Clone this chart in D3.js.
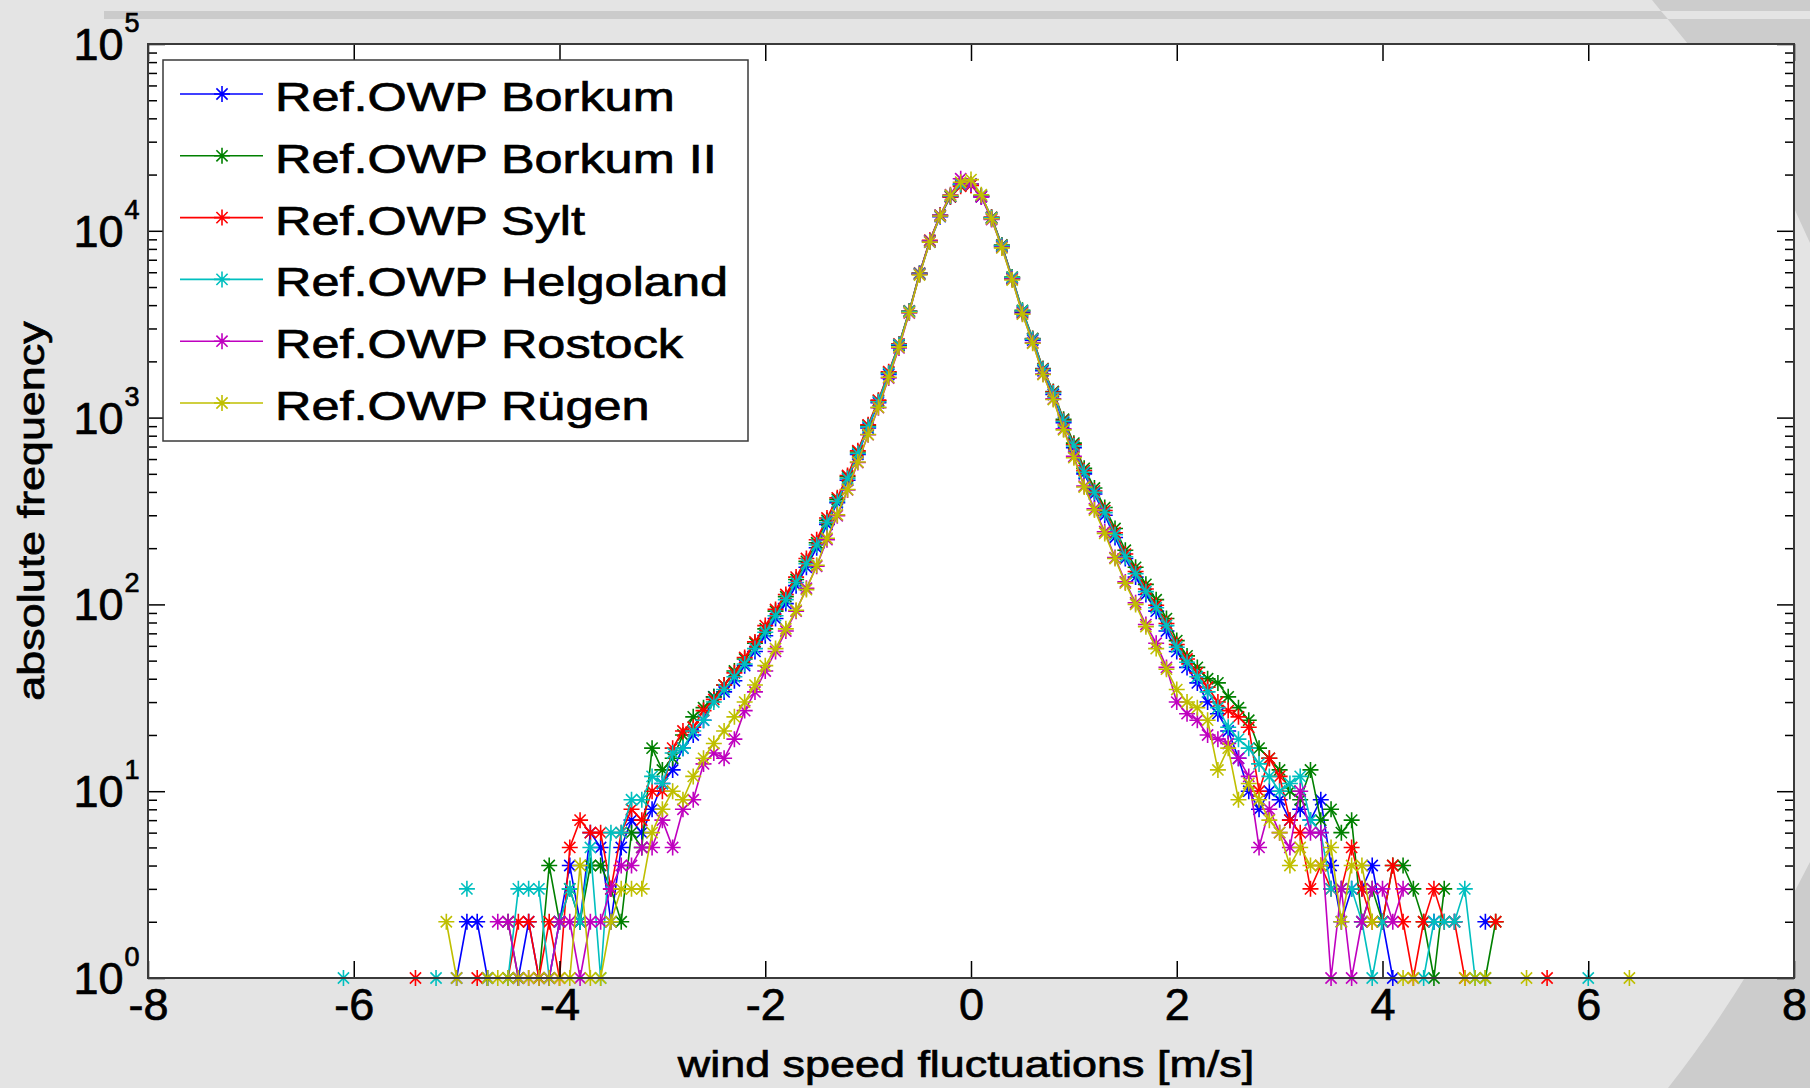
<!DOCTYPE html>
<html><head><meta charset="utf-8">
<script src="https://cdn.jsdelivr.net/npm/d3@7"></script>
<style>
body{margin:0;background:#e4e4e4;}
svg{display:block;}
text{font-family:"Liberation Sans",Arial,Helvetica,sans-serif;fill:#000;stroke:#000;stroke-width:0.7px;}
</style>
</head><body>
<svg id="c" width="1810" height="1088"></svg>
<script>
const _ = null;
// histogram bin centres (m/s)
const bins = [-6.1,-6.0,-5.9,-5.8,-5.7,-5.6,-5.5,-5.4,-5.3,-5.2,-5.1,-5.0,-4.9,-4.8,-4.7,-4.6,-4.5,-4.4,-4.3,-4.2,-4.1,-4.0,-3.9,-3.8,-3.7,-3.6,-3.5,-3.4,-3.3,-3.2,-3.1,-3.0,-2.9,-2.8,-2.7,-2.6,-2.5,-2.4,-2.3,-2.2,-2.1,-2.0,-1.9,-1.8,-1.7,-1.6,-1.5,-1.4,-1.3,-1.2,-1.1,-1.0,-0.9,-0.8,-0.7,-0.6,-0.5,-0.4,-0.3,-0.2,-0.1,0.0,0.1,0.2,0.3,0.4,0.5,0.6,0.7,0.8,0.9,1.0,1.1,1.2,1.3,1.4,1.5,1.6,1.7,1.8,1.9,2.0,2.1,2.2,2.3,2.4,2.5,2.6,2.7,2.8,2.9,3.0,3.1,3.2,3.3,3.4,3.5,3.6,3.7,3.8,3.9,4.0,4.1,4.2,4.3,4.4,4.5,4.6,4.7,4.8,4.9,5.0,5.1,5.2,5.3,5.4,5.5,5.6,5.7,5.8,5.9,6.0,6.1,6.2,6.3,6.4];

const seriesNames = ["Ref.OWP Borkum","Ref.OWP Borkum II","Ref.OWP Sylt","Ref.OWP Helgoland","Ref.OWP Rostock","Ref.OWP Rügen"];
const seriesColors = ["#0000ff","#008000","#ff0000","#00bfbf","#bf00bf","#bfbf00"];

const borkum = [_,_,_,_,_,_,_,
  _,_,_,_,1,2,2,1,_,_,1,2,1,1,2,4,2,6,5,
  2,5,7,6,8,11,13,17,20,24,
  32,34,39,47,56,68,84,101,126,158,
  201,268,350,462,635,880,1200,1700,2430,3680,
  5850,8700,11900,15200,17800,17700,15200,11600,8250,5550,
  3650,2600,1780,1330,940,690,500,390,300,228,
  176,140,113,92,72,56,46,38,30,26,
  21,15,10,8,10,9,7,8,7,9,
  4,2,3,3,4,2,1,_,_,_,
  2,_,2,_,_,2,_,_,_,_,
  _,_,_,_,_,_,_,_,_,_];
const borkum2 = [_,_,_,_,_,_,_,
  _,_,_,_,_,_,_,1,_,2,1,_,1,4,2,3,2,4,4,
  3,2,6,5,17,13,15,20,25,28,
  32,37,44,51,62,74,92,110,136,170,
  214,282,365,482,655,905,1230,1740,2460,3720,
  5900,8850,12100,15300,17600,17700,15400,11800,8400,5650,
  3750,2650,1830,1380,980,730,535,420,330,255,
  195,158,128,106,84,64,53,46,40,38,
  32,28,24,17,15,13,10,9,13,7,
  8,6,7,2,3,2,4,4,3,2,
  1,3,_,_,_,1,2,_,_,_,
  _,_,_,_,_,_,_,_,_,_];
const sylt = [_,_,_,_,_,_,_,
  1,_,_,_,_,_,1,_,_,1,2,2,1,2,1,5,7,6,6,
  3,6,8,7,10,10,17,21,22,27,
  31,37,43,52,63,77,94,113,140,176,
  222,290,372,490,665,915,1240,1760,2480,3720,
  5950,8900,12100,15200,17300,17500,15300,11800,8350,5600,
  3700,2640,1820,1370,965,715,520,405,318,242,
  186,150,121,99,79,61,51,43,36,30,
  27,25,22,10,15,12,7,6,3,4,
  3,3,5,3,2,2,4,2,1,2,
  3,2,2,1,_,_,2,_,_,_,
  _,1,_,_,_,_,_,_,_,_];
const helgoland = [1,_,_,_,_,_,_,
  _,_,1,_,_,3,_,_,_,1,3,3,3,1,2,3,2,5,1,
  6,6,9,9,12,11,16,17,21,24,
  30,35,41,48,58,71,87,106,131,165,
  208,275,356,472,642,892,1215,1725,2460,3710,
  5920,8820,12050,15350,17700,17800,15350,11750,8330,5620,
  3720,2630,1810,1355,955,705,510,398,310,236,
  180,146,117,96,77,59,49,41,34,28,
  22,19,17,14,12,10,11,12,7,6,
  3,3,3,2,1,2,_,_,_,1,
  2,2,2,3,1,_,_,_,_,_,
  _,_,_,_,_,1,_,_,_,_];
const rostock = [_,_,_,_,_,_,_,
  _,_,_,_,_,_,_,_,2,2,1,1,1,1,2,2,1,2,2,
  3,4,4,5,5,7,5,8,9,14,
  16,15,19,27,34,44,56,72,92,122,
  160,222,298,410,575,810,1130,1630,2360,3630,
  5850,8800,12100,15600,19000,17800,15200,11500,8150,5500,
  3600,2520,1710,1260,870,620,430,325,245,178,
  132,102,78,62,46,30,26,24,20,19,
  18,15,12,5,8,6,5,10,6,6,
  1,3,1,2,3,3,2,3,_,_,
  _,_,_,_,_,_,_,_,_,_,
  _,_,_,_,_,_,_,_,_,_];
const ruegen = [_,_,_,_,_,_,_,
  _,_,_,2,1,_,_,1,1,1,1,1,1,1,1,1,4,1,1,
  2,3,3,3,6,8,10,9,12,15,
  18,21,25,30,37,47,58,74,93,120,
  162,226,302,412,578,812,1135,1645,2385,3655,
  5800,8700,12000,15500,18200,18800,15600,11600,8100,5450,
  3580,2500,1700,1250,860,610,425,320,240,176,
  130,100,76,58,45,35,30,28,24,13,
  17,9,11,9,7,6,4,5,4,4,
  5,2,4,4,2,_,_,1,1,_,
  _,_,_,1,1,1,_,_,_,1,
  _,_,_,_,_,_,_,_,_,1];

const seriesValues = [borkum, borkum2, sylt, helgoland, rostock, ruegen];

const xTicks = [-8,-6,-4,-2,0,2,4,6,8];
const xTickLabels = ["-8","-6","-4","-2","0","2","4","6","8"];
const yDecades = [1,10,100,1000,10000,100000];
const yExponents = ["0","1","2","3","4","5"];
const xLabel = "wind speed fluctuations [m/s]";
const yLabel = "absolute frequency";

const svg = d3.select("#c");
const L = 148, R = 1794, T = 44, B = 978;

// background decoration
svg.append("rect").attr("width",1810).attr("height",1088).attr("fill","#e4e4e4");
svg.append("path").attr("d","M1652,0 L1810,0 L1810,243 L1794,208 L1794,44 L1688,44 Z").attr("fill","#cccccc");
svg.append("path").attr("d","M104,11 L1661,11 L1668,19 L104,19 Z").attr("fill","#cbcbcb");
svg.append("path").attr("d","M1661,11 L1810,11 L1810,19 L1668,19 Z").attr("fill","#e4e4e4");
svg.append("path").attr("d","M1668,1088 Q1745,990 1810,862 L1810,1088 Z").attr("fill","#cccccc");

const x = d3.scaleLinear().domain([-8,8]).range([L,R]);
const y = d3.scaleLog().domain([1,1e5]).range([B,T]);

svg.append("rect").attr("x",L).attr("y",T).attr("width",R-L).attr("height",B-T).attr("fill","#fff");

// data
const line = d3.line().defined(d => d.v != null).x(d => x(d.u)).y(d => y(d.v));
const r = 8, dg = 5.6;
const star = `M${-r},0H${r}M0,${-r}V${r}M${-dg},${-dg}L${dg},${dg}M${-dg},${dg}L${dg},${-dg}`;
seriesValues.forEach((vals, si) => {
  const pts = bins.map((u,i) => ({u, v: vals[i]}));
  const g = svg.append("g");
  g.append("path").attr("d", line(pts)).attr("fill","none")
    .attr("stroke", seriesColors[si]).attr("stroke-width",1.6).attr("stroke-linejoin","round");
  g.selectAll("path.m").data(pts.filter(p => p.v != null)).join("path").attr("class","m")
    .attr("d", star).attr("transform", p => `translate(${x(p.u)},${y(p.v)})`)
    .attr("fill","none").attr("stroke", seriesColors[si]).attr("stroke-width",1.6);
});

// axes (ticks inside)
const minors = [];
yDecades.slice(0,-1).forEach(d => { for (let k=2;k<=9;k++) minors.push(d*k); });
const axStyle = g => { g.select(".domain").remove(); g.selectAll(".tick line").attr("stroke","#000").attr("stroke-width",1.5); };
svg.append("g").attr("transform",`translate(0,${B})`)
  .call(d3.axisBottom(x).tickValues(xTicks).tickSizeInner(-17).tickSizeOuter(0).tickPadding(10).tickFormat((d,i)=>xTickLabels[i]))
  .call(axStyle)
  .call(g => g.selectAll("text").attr("font-size",45).attr("font-family","Liberation Sans, Arial, sans-serif").attr("fill","#000"));
svg.append("g").attr("transform",`translate(0,${T})`)
  .call(d3.axisTop(x).tickValues(xTicks).tickSizeInner(-17).tickSizeOuter(0).tickFormat("")).call(axStyle);
svg.append("g").attr("transform",`translate(${L},0)`)
  .call(d3.axisLeft(y).tickValues(yDecades).tickSizeInner(-17).tickSizeOuter(0).tickFormat("")).call(axStyle);
svg.append("g").attr("transform",`translate(${L},0)`)
  .call(d3.axisLeft(y).tickValues(minors).tickSizeInner(-9).tickSizeOuter(0).tickFormat("")).call(axStyle);
svg.append("g").attr("transform",`translate(${R},0)`)
  .call(d3.axisRight(y).tickValues(yDecades).tickSizeInner(-17).tickSizeOuter(0).tickFormat("")).call(axStyle);
svg.append("g").attr("transform",`translate(${R},0)`)
  .call(d3.axisRight(y).tickValues(minors).tickSizeInner(-9).tickSizeOuter(0).tickFormat("")).call(axStyle);
svg.append("rect").attr("x",L).attr("y",T).attr("width",R-L).attr("height",B-T)
  .attr("fill","none").attr("stroke","#3a3a3a").attr("stroke-width",2);

// y tick labels 10^k
yDecades.forEach((d,i) => {
  svg.append("text").attr("x",123.5).attr("y",y(d)+16).attr("text-anchor","end").attr("font-size",45).text("10");
  svg.append("text").attr("x",124.5).attr("y",y(d)-12).attr("font-size",27).text(yExponents[i]);
});

// axis labels
svg.append("g").attr("transform",`translate(966,1077) scale(1.23,1)`)
  .append("text").attr("text-anchor","middle").attr("font-size",36.5).text(xLabel);
svg.append("g").attr("transform",`translate(44,511) rotate(-90) scale(1.23,1)`)
  .append("text").attr("text-anchor","middle").attr("font-size",36.5).text(yLabel);

// legend
const lg = svg.append("g");
lg.append("rect").attr("x",163).attr("y",60).attr("width",585).attr("height",381)
  .attr("fill","#fff").attr("stroke","#3a3a3a").attr("stroke-width",1.5);
const legY = d3.scaleLinear().domain([0,5]).range([94,403]);
seriesNames.forEach((name,i) => {
  const cy = legY(i);
  lg.append("line").attr("x1",180).attr("x2",263).attr("y1",cy).attr("y2",cy)
    .attr("stroke",seriesColors[i]).attr("stroke-width",1.6);
  lg.append("path").attr("d",star).attr("transform",`translate(222,${cy})`)
    .attr("fill","none").attr("stroke",seriesColors[i]).attr("stroke-width",1.6);
  lg.append("g").attr("transform",`translate(275,${cy+17}) scale(1.23,1)`)
    .append("text").attr("font-size",41).text(name);
});
</script>
</body></html>
